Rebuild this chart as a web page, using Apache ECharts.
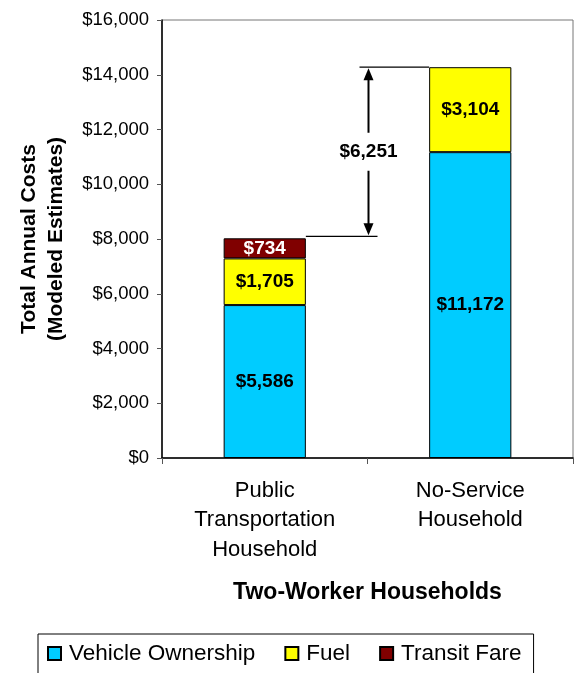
<!DOCTYPE html>
<html><head><meta charset="utf-8">
<script src="https://cdn.jsdelivr.net/npm/echarts@6/dist/echarts.min.js"></script>
<style>html,body{margin:0;padding:0;background:#fff}#c{width:574px;height:673px}</style>
</head><body><div id="c"></div>
<script>
const categories = ['Public\nTransportation\nHousehold', 'No-Service\nHousehold'];
const vehicleOwnership = [5586, 11172];
const fuel = [1705, 3104];
const transitFare = [734, 0];
const yTicks = [0, 2000, 4000, 6000, 8000, 10000, 12000, 14000, 16000];

const F = '"Liberation Sans", Arial, sans-serif';
const fmt = v => '$' + v.toLocaleString('en-US');
const totals = categories.map((_, i) => vehicleOwnership[i] + fuel[i] + transitFare[i]);
const diffData = [[0, totals[0], 1, totals[1]]];

const labelStyle = (color) => ({
  show: true, position: 'inside', fontFamily: F, fontWeight: 'bold', fontSize: 19, color: color,
  formatter: p => p.value ? fmt(p.value) : ''
});

const chart = echarts.init(document.getElementById('c'), null, {renderer: 'canvas'});
chart.setOption({
  animation: false,
  grid: {left: 162, right: 1, top: 20, bottom: 215, show: true, borderColor: '#777', borderWidth: 1},
  xAxis: {
    type: 'category', data: categories,
    axisLine: {lineStyle: {color: '#000', width: 1.5}},
    axisTick: {show: true, length: 6, lineStyle: {color: '#555'}},
    axisLabel: {fontFamily: F, fontSize: 22, color: '#000', lineHeight: 29.5, margin: 18},
    name: 'Two-Worker Households', nameLocation: 'middle', nameGap: 123,
    nameTextStyle: {fontFamily: F, fontSize: 23, fontWeight: 'bold', color: '#000'}
  },
  yAxis: {
    type: 'value', min: yTicks[0], max: yTicks[yTicks.length - 1], interval: yTicks[1] - yTicks[0],
    axisLine: {show: true, lineStyle: {color: '#000', width: 1.5}},
    axisTick: {show: true, length: 5, lineStyle: {color: '#555'}},
    splitLine: {show: false},
    axisLabel: {fontFamily: F, fontSize: 18.5, color: '#000', margin: 13, formatter: v => fmt(v)},
    name: 'Total Annual Costs\n(Modeled Estimates)', nameLocation: 'middle', nameGap: 92,
    nameTextStyle: {fontFamily: F, fontSize: 21, fontWeight: 'bold', color: '#000', lineHeight: 27}
  },
  legend: {
    left: 38, top: 634,
    data: ['Vehicle Ownership', 'Fuel', 'Transit Fare'],
    borderColor: '#000', borderWidth: 1, borderRadius: 0,
    padding: [8, 12, 12, 9], itemGap: 29, itemWidth: 13, itemHeight: 13, icon: 'rect',
    textStyle: {fontFamily: F, fontSize: 22.5, color: '#000', padding: [0, 0, 0, 3]}
  },
  series: [
    {name: 'Vehicle Ownership', type: 'bar', stack: 't', barWidth: '40%', data: vehicleOwnership,
     itemStyle: {color: '#00CCFF', borderColor: '#000', borderWidth: 1}, label: labelStyle('#000')},
    {name: 'Fuel', type: 'bar', stack: 't', data: fuel,
     itemStyle: {color: '#FFFF00', borderColor: '#000', borderWidth: 1}, label: labelStyle('#000')},
    {name: 'Transit Fare', type: 'bar', stack: 't', data: transitFare.map(v => v || null),
     itemStyle: {color: '#800000', borderColor: '#000', borderWidth: 1}, label: labelStyle('#fff')},
    {type: 'custom', silent: true, z: 10, data: diffData, encode: {x: [0, 2], y: [1, 3]},
     renderItem: function (params, api) {
       const p0 = api.coord([api.value(0), api.value(1)]);
       const p1 = api.coord([api.value(2), api.value(3)]);
       const half = api.size([1, 0])[0] * 0.4 / 2;
       const mx = (p0[0] + p1[0]) / 2 + 1;
       const yb = p0[1] - 2, yt = p1[1];
       const my = (yb + yt) / 2;
       const ls = {stroke: '#000', lineWidth: 1.3};
       const diff = api.value(3) - api.value(1);
       return {type: 'group', children: [
         {type: 'line', shape: {x1: p0[0] + half, y1: yb, x2: mx + 9, y2: yb}, style: ls},
         {type: 'line', shape: {x1: mx - 9, y1: yt, x2: p1[0] - half, y2: yt}, style: ls},
         {type: 'line', shape: {x1: mx, y1: yt + 8, x2: mx, y2: my - 19}, style: {stroke: '#000', lineWidth: 2}},
         {type: 'line', shape: {x1: mx, y1: my + 19, x2: mx, y2: yb - 8}, style: {stroke: '#000', lineWidth: 2}},
         {type: 'polygon', shape: {points: [[mx, yt + 1], [mx - 5, yt + 13], [mx + 5, yt + 13]]}, style: {fill: '#000'}},
         {type: 'polygon', shape: {points: [[mx, yb - 1], [mx - 5, yb - 13], [mx + 5, yb - 13]]}, style: {fill: '#000'}},
         {type: 'text', x: mx, y: my, style: {text: fmt(diff), fontFamily: F, fontWeight: 'bold', fontSize: 19, fill: '#000', align: 'center', verticalAlign: 'middle'}}
       ]};
     }}
  ]
});
</script></body></html>
